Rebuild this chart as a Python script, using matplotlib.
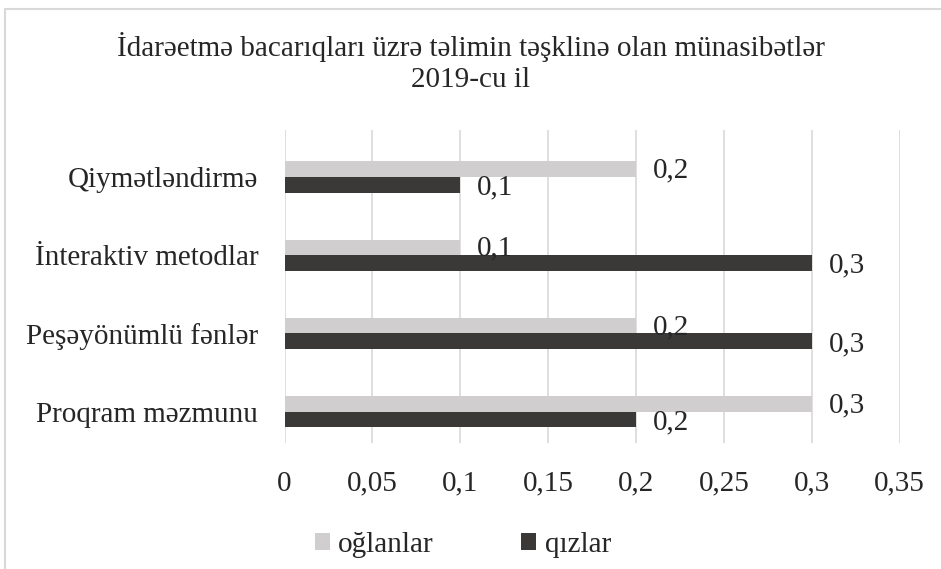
import matplotlib
matplotlib.use("Agg")
import matplotlib.pyplot as plt
from matplotlib.patches import Rectangle, Patch
import numpy as np

plt.rcParams['font.family'] = ['Liberation Serif', 'DejaVu Serif']

# ── Data ─────────────────────────────────────────────
categories = ['Proqram məzmunu', 'Peşəyönümlü fənlər',
              'İnteraktiv metodlar', 'Qiymətləndirmə']
oglanlar = [0.3, 0.2, 0.1, 0.2]
qizlar   = [0.2, 0.3, 0.3, 0.1]
xticks   = [0, 0.05, 0.1, 0.15, 0.2, 0.25, 0.3, 0.35]

LIGHT = '#D0CECE'
DARK  = '#3B3838'
GRID  = '#D9D9D9'
TXT   = '#262626'
FS    = 21

def fmt(v):
    return ('%g' % v).replace('.', ',')

fig = plt.figure(figsize=(9.41, 5.69), dpi=100)
ax = fig.add_axes([284.6/941, 1 - 443/569, 615/941, 313/569])

y = np.arange(len(categories))
bh = 0.2
ax.barh(y + bh/2, oglanlar, height=bh, color=LIGHT, zorder=3, label='oğlanlar')
ax.barh(y - bh/2, qizlar, height=bh, color=DARK, zorder=3, label='qızlar')

# value labels
for yi, v in zip(y + bh/2, oglanlar):
    ax.annotate(fmt(v), (v, yi), xytext=(12, -1), textcoords='offset points',
                ha='left', va='center', fontsize=FS, color=TXT, zorder=4)
for yi, v in zip(y - bh/2, qizlar):
    ax.annotate(fmt(v), (v, yi), xytext=(12, -2), textcoords='offset points',
                ha='left', va='center', fontsize=FS, color=TXT, zorder=4)

ax.set_xlim(0, 0.35)
ax.set_ylim(-0.4, 3.6)
ax.set_xticks(xticks)
ax.set_xticklabels([fmt(t) for t in xticks], fontsize=FS, color=TXT)
ax.set_yticks(y)
ax.set_yticklabels(categories, fontsize=FS, color=TXT)
ax.tick_params(axis='x', length=0, pad=20)
ax.tick_params(axis='y', length=0, pad=19)
ax.grid(axis='x', color=GRID, lw=1.2, zorder=0)
for s in ax.spines.values():
    s.set_visible(False)

# title
fig.text(0.5, 1 - 47/569, 'İdarəetmə bacarıqları üzrə təlimin təşklinə olan münasibətlər',
         ha='center', va='center', fontsize=FS, color=TXT)
fig.text(0.5, 1 - 80/569, '2019-cu il',
         ha='center', va='center', fontsize=FS, color=TXT)

# legend
handles = [Patch(facecolor=LIGHT, edgecolor='none', label='oğlanlar'),
           Patch(facecolor=DARK, edgecolor='none', label='qızlar')]
fig.legend(handles=handles, loc='center', bbox_to_anchor=(463/941, 1 - 545/569),
           ncol=2, frameon=False, fontsize=FS, handlelength=0.5, handleheight=0.5,
           handletextpad=0.3, columnspacing=3.0, labelcolor=TXT)

# chart-area border (cropped at right/bottom)
fig.patches.append(Rectangle((5/941, -0.1), 1.2, 1 - 9/569 + 0.1,
                             transform=fig.transFigure, fill=False,
                             edgecolor=GRID, lw=1.5))

fig.savefig('out.png', dpi=100)
